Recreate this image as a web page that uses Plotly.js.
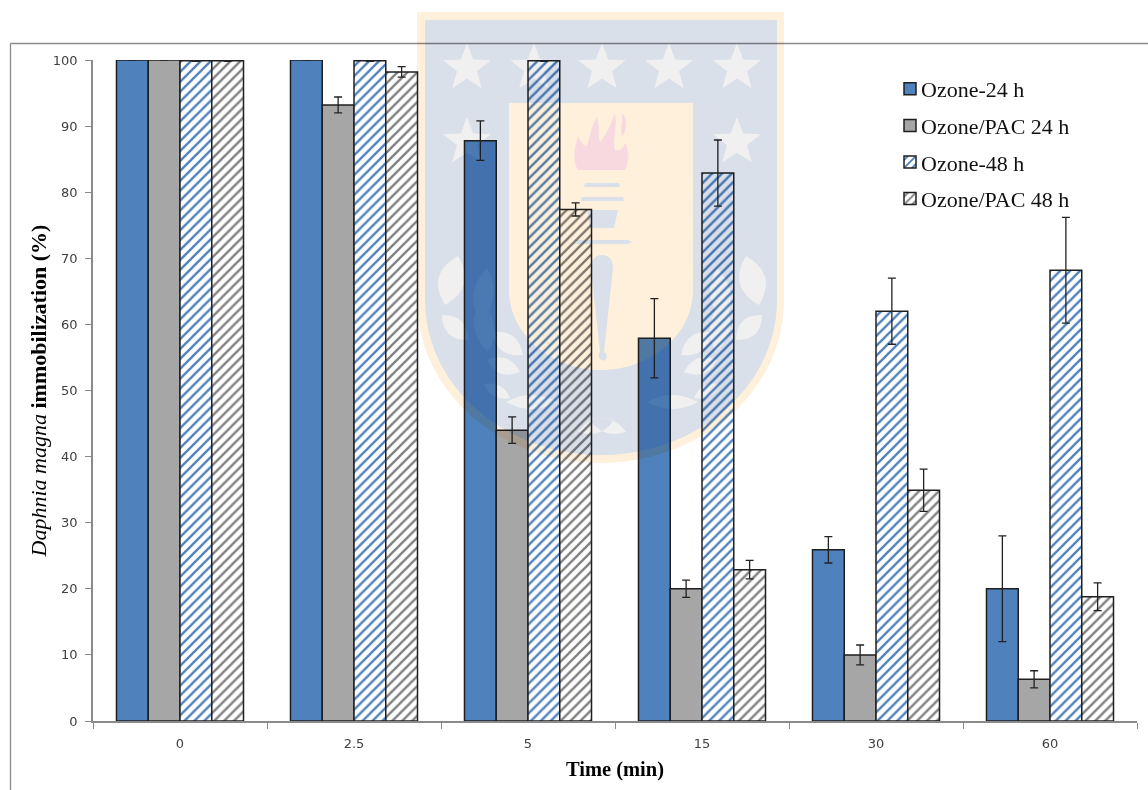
<!DOCTYPE html>
<html><head><meta charset="utf-8">
<script src="https://cdn.plot.ly/plotly-3.0.1.min.js"></script>
<style>
html,body{margin:0;padding:0;background:#fff;overflow:hidden}
#wrap{position:relative;width:1148px;height:790px}
#chart{position:absolute;left:0;top:0;width:1148px;height:790px}
#mark{position:absolute;left:0;top:0;pointer-events:none;mix-blend-mode:multiply}
</style></head><body>
<div id="wrap"><div id="chart"></div>
<svg id="mark" width="1148" height="790" viewBox="0 0 1148 790"></svg></div>
<script>
const categories = ["0","2.5","5","15","30","60"];
const ozone24 = [100,100,87.8,57.9,25.9,20];
const ozone24Err = [0,0,3,6,2,8];
const pac24 = [100,93.2,44,20,10,6.3];
const pac24Err = [0,1.2,2,1.3,1.5,1.3];
const ozone48 = [99.9,99.9,99.9,82.9,62,68.2];
const ozone48Err = [0.1,0.1,0.1,5,5,8];
const pac48 = [99.9,98.2,77.4,22.9,34.9,18.8];
const pac48Err = [0.1,0.8,1,1.4,3.2,2.1];
const names = ["Ozone-24 h","Ozone/PAC 24 h","Ozone-48 h","Ozone/PAC 48 h"];

const BLUE="#4f81bd", GREY="#a6a6a6", EDGE="#1f1f1f";
const W=1148,H=790,L=93,R=1137,T=60,B=721;
const px=x=>(x-L)/(R-L), py=y=>(B-y)/(B-T);
function trace(i,y,err,marker){
  return {type:"bar",name:names[i],x:categories,y:y,legendgroup:"g"+i,cliponaxis:false,
    error_y:{type:"data",array:err,visible:true,color:"#222",thickness:1.3,width:4},
    marker:Object.assign({line:{color:EDGE,width:1.5}},marker)};
}
const hatch=c=>({color:"#fff",pattern:{shape:"/",size:7,solidity:0.33,fgcolor:c,bgcolor:"#fff",fillmode:"replace"}});
const data=[
  trace(0,ozone24,ozone24Err,{color:BLUE}),
  trace(1,pac24,pac24Err,{color:GREY}),
  trace(2,ozone48,ozone48Err,hatch(BLUE)),
  trace(3,pac48,pac48Err,hatch("#7f7f7f"))
];
const tickFont={family:"'DejaVu Sans',sans-serif",size:13,color:"#404040"};
const serif="'Liberation Serif','Times New Roman',serif";
const layout={
  width:W,height:H,margin:{l:L,r:W-R,t:T,b:H-B,pad:0},
  paper_bgcolor:"#fff",plot_bgcolor:"rgba(0,0,0,0)",
  barmode:"group",bargap:0.27,bargroupgap:0,
  font:{family:serif,color:"#000"},
  showlegend:true,
  legend:{x:px(890),y:py(68),xanchor:"left",yanchor:"top",bgcolor:"rgba(0,0,0,0)",borderwidth:0,
    font:{family:serif,size:22,color:"#111"},traceorder:"grouped",tracegroupgap:5,itemclick:false},
  xaxis:{type:"category",categoryorder:"array",categoryarray:categories,tickson:"boundaries",
    ticks:"outside",ticklen:6,tickcolor:"#8a8a8a",tickwidth:1,showgrid:false,zeroline:false,
    showline:true,linecolor:"#8a8a8a",linewidth:1.5,tickfont:tickFont,ticklabelstandoff:10,
    title:{text:"<b>Time (min)</b>",font:{family:serif,size:20.5,color:"#000"},standoff:11}},
  yaxis:{range:[0,100],tickvals:[0,10,20,30,40,50,60,70,80,90,100],
    ticks:"outside",ticklen:6,tickcolor:"#8a8a8a",tickwidth:1,showgrid:false,zeroline:false,
    showline:true,linecolor:"#8a8a8a",linewidth:1.5,tickfont:tickFont,ticklabelstandoff:5,
    title:{text:"<i>Daphnia magna</i> <b>immobilization (%)</b>",font:{family:serif,size:22,color:"#000"},standoff:0}},
  shapes:[
    {type:"line",xref:"paper",yref:"paper",x0:px(10.5),x1:px(1148),y0:py(43.5),y1:py(43.5),line:{color:"#8a8a8a",width:1.3}},
    {type:"line",xref:"paper",yref:"paper",x0:px(10.5),x1:px(10.5),y0:py(43.5),y1:py(790),line:{color:"#8a8a8a",width:1.3}}
  ]
};

/* University crest watermark, laid over the chart */
function star(cx,cy,r){
  let d="";
  for(let k=0;k<10;k++){const a=-Math.PI/2+k*Math.PI/5,q=k%2?r*0.42:r;
    d+=(k?"L":"M")+(cx+q*Math.cos(a)).toFixed(1)+","+(cy+q*Math.sin(a)).toFixed(1);}
  return d+"Z";
}
function leaf(x1,y1,x2,y2,b){
  const mx=(x1+x2)/2,my=(y1+y2)/2,dx=x2-x1,dy=y2-y1,l=Math.hypot(dx,dy),nx=-dy/l,ny=dx/l;
  return `M${x1},${y1}Q${mx+nx*b},${my+ny*b} ${x2},${y2}Q${mx-nx*b},${my-ny*b} ${x1},${y1}Z`;
}
const leaves=[[445,305,458,256,26],[480,322,487,268,20],[488,352,480,300,20],[468,340,442,315,18],
  [523,355,492,332,18],[520,372,487,360,16],[510,398,484,384,12],[557,402,506,402,14],[626,432,590,420,14]];
let s=`<path d="M417,12H784V300C784,392 700,463 600.5,463C501,463 417,392 417,300Z" fill="#fff0dc"/>`;
s+=`<path d="M425,20H777V300C777,388 695,455 601,455C507,455 425,388 425,300Z" fill="#d9e0ea"/>`;
let stars=[[467,68],[534,68],[602,68],[669,68],[737,68],[467,142],[737,142]];
s+=`<path d="${stars.map(p=>star(p[0],p[1],25)).join("")}" fill="#f0f0f0"/>`;
s+=`<path d="M509,103H693V290C693,335 650,370 601,370C552,370 509,335 509,290Z" fill="#fff0dc"/>`;
s+=`<path d="M578,170C573,163 573,150 578,137C582,143 585,148 587,146C590,135 592,125 597,117C600,128 598,136 600,142C606,135 611,124 615,113C618,125 612,140 615,150C620,152 623,148 625,143C629,150 630,160 625,170Z M622,113C627,118 628,128 622,137C620,128 623,120 622,113Z" fill="#f8d9e0"/>`;
s+=`<path d="M585,183H619L620,187H584Z M582,197H623L624,201H581Z M587,210H618L614,228H590Z M573,240H628L632,242L628,244H573L578,242Z M602,255C610,255 613,261 613,268L604,352C607,353 608,358 605,360C602,362 597,358 599,353C600,352 600,352 600,352L591,268C591,261 594,255 602,255Z" fill="#d9e0ea"/>`;
const ld=leaves.map(a=>leaf(...a)+leaf(1204-a[0],a[1],1204-a[2],a[3],-a[4])).join("");
s+=`<path d="${ld}" fill="#f0f0f0"/>`;
document.getElementById("mark").innerHTML=s;

Plotly.newPlot("chart",data,layout,{displayModeBar:false}).then(()=>{
  document.querySelectorAll("#chart .legendtext").forEach(t=>t.setAttribute("x","31"));
});
</script></body></html>
